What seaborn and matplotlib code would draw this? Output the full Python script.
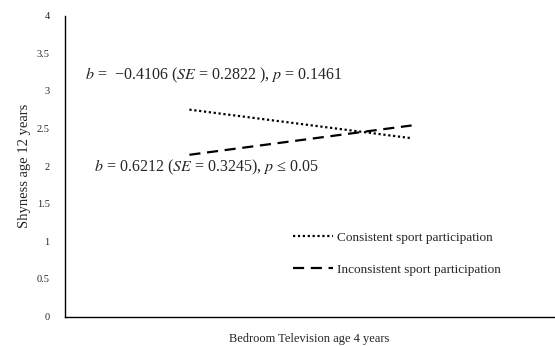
import pandas as pd
from matplotlib import pyplot as plt
from matplotlib.lines import Line2D
import seaborn as sns

tv_levels = [0, 1]  # low / high bedroom television
consistent = [2.75, 2.37]
inconsistent = [2.15, 2.54]
groups = ["Consistent sport participation", "Inconsistent sport participation"]

df = pd.DataFrame({
    "tv": tv_levels * 2,
    "shyness": consistent + inconsistent,
    "group": [groups[0]] * 2 + [groups[1]] * 2,
})

sns.set_style("white")
plt.rcParams["font.family"] = ["Liberation Serif", "DejaVu Serif"]
plt.rcParams["mathtext.fontset"] = "stix"

fig, ax = plt.subplots(figsize=(5.55, 3.46), dpi=100)
fig.subplots_adjust(left=0.117, right=0.998, top=0.955, bottom=0.085)

sns.lineplot(data=df, x="tv", y="shyness", hue="group", style="group",
             palette=["black", "black"], dashes=[(1, 1.2), (5, 3)],
             linewidth=1.6, ax=ax, legend=False)

ax.set_xlim(-0.56, 1.64)
ax.set_ylim(0, 4)
ax.set_yticks([0, 0.5, 1, 1.5, 2, 2.5, 3, 3.5, 4])
ax.set_yticklabels(["0", "0.5", "1", "1.5", "2", "2.5", "3", "3.5", "4"])
ax.set_xticks([])
ax.tick_params(axis="y", length=0, labelsize=7.5, pad=11)
for s in ["top", "right"]:
    ax.spines[s].set_visible(False)
for s in ["left", "bottom"]:
    ax.spines[s].set_color("black")
    ax.spines[s].set_linewidth(1)

ax.set_ylabel("Shyness age 12 years", fontsize=10.5, labelpad=4)
ax.set_xlabel("Bedroom Television age 4 years", fontsize=9, labelpad=12)

ax.text(-0.47, 3.2, r"$b$ =  −0.4106 ($SE$ = 0.2822 ), $p$ = 0.1461",
        fontsize=11.5, va="center")
ax.text(-0.43, 1.98, r"$b$ = 0.6212 ($SE$ = 0.3245), $p$ ≤ 0.05",
        fontsize=11.5, va="center")

handles = [Line2D([], [], color="black", linestyle=(0, (1, 1.2)), linewidth=1.6),
           Line2D([], [], color="black", linestyle=(0, (5, 3)), linewidth=1.6)]
fig.legend(handles, groups, loc="upper left", bbox_to_anchor=(0.528, 0.33),
           frameon=False, fontsize=9.5, handlelength=3.0, handletextpad=0.35,
           labelspacing=1.5, borderaxespad=0, borderpad=0)

fig.savefig("out.png", dpi=100)
